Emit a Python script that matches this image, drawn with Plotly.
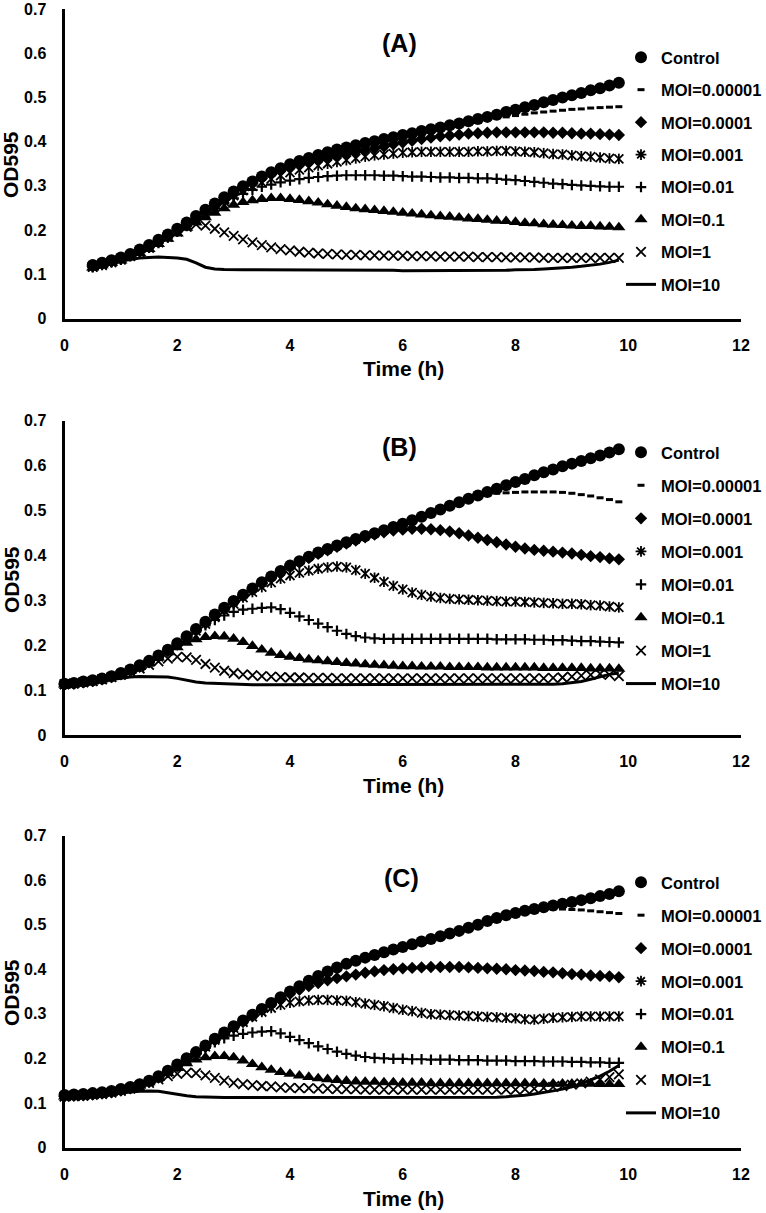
import plotly.graph_objects as go

W, H = 766, 1213
FONT = "Liberation Sans, Arial, Helvetica, sans-serif"

NAMES = ["Control", "MOI=0.00001", "MOI=0.0001", "MOI=0.001",
         "MOI=0.01", "MOI=0.1", "MOI=1", "MOI=10"]

# sampling times in minutes (10-min reads)
A_MINUTES = [30, 40, 50, 60, 70, 80, 90, 100, 110, 120,
             130, 140, 150, 160, 170, 180, 190, 200, 210, 220,
             230, 240, 250, 260, 270, 280, 290, 300, 310, 320,
             330, 340, 350, 360, 370, 380, 390, 400, 410, 420,
             430, 440, 450, 460, 470, 480, 490, 500, 510, 520,
             530, 540, 550, 560, 570, 580, 590]
BC_MINUTES = [0, 10, 20, 30, 40, 50, 60, 70, 80, 90,
              100, 110, 120, 130, 140, 150, 160, 170, 180, 190,
              200, 210, 220, 230, 240, 250, 260, 270, 280, 290,
              300, 310, 320, 330, 340, 350, 360, 370, 380, 390,
              400, 410, 420, 430, 440, 450, 460, 470, 480, 490,
              500, 510, 520, 530, 540, 550, 560, 570, 580, 590]

# ---------------- Panel A ----------------
A_CONTROL = [0.121,0.126,0.132,0.138,0.146,0.156,0.166,0.178,0.190,0.203,
             0.217,0.232,0.246,0.260,0.274,0.287,0.299,0.310,0.321,0.331,
             0.340,0.349,0.356,0.363,0.370,0.376,0.382,0.387,0.392,0.397,
             0.401,0.406,0.410,0.415,0.419,0.424,0.428,0.432,0.437,0.441,
             0.446,0.451,0.456,0.461,0.467,0.472,0.478,0.483,0.489,0.494,
             0.500,0.505,0.510,0.516,0.521,0.527,0.533]
A_MOI_1E5 = [0.119,0.124,0.130,0.136,0.144,0.154,0.164,0.176,0.188,0.201,
             0.215,0.229,0.243,0.257,0.271,0.284,0.296,0.307,0.318,0.328,
             0.337,0.346,0.354,0.361,0.368,0.374,0.380,0.385,0.390,0.395,
             0.399,0.404,0.408,0.413,0.417,0.421,0.425,0.429,0.433,0.437,
             0.441,0.445,0.449,0.453,0.456,0.459,0.462,0.465,0.467,0.469,
             0.471,0.473,0.474,0.476,0.477,0.478,0.479]
A_MOI_1E4 = [0.118,0.123,0.129,0.135,0.143,0.152,0.162,0.174,0.186,0.199,
             0.213,0.227,0.241,0.255,0.268,0.281,0.294,0.306,0.317,0.326,
             0.334,0.341,0.347,0.353,0.358,0.363,0.368,0.372,0.377,0.381,
             0.385,0.389,0.394,0.398,0.402,0.406,0.409,0.412,0.414,0.416,
             0.418,0.419,0.420,0.421,0.421,0.421,0.421,0.421,0.421,0.420,
             0.420,0.419,0.418,0.418,0.417,0.416,0.415]
A_MOI_1E3 = [0.117,0.122,0.128,0.134,0.142,0.151,0.161,0.172,0.184,0.197,
             0.211,0.225,0.238,0.252,0.265,0.278,0.289,0.299,0.308,0.316,
             0.323,0.330,0.336,0.341,0.346,0.350,0.354,0.358,0.362,0.366,
             0.369,0.371,0.373,0.375,0.376,0.377,0.377,0.377,0.377,0.377,
             0.377,0.378,0.378,0.379,0.379,0.378,0.377,0.376,0.374,0.372,
             0.371,0.369,0.367,0.366,0.364,0.362,0.361]
A_MOI_1E2 = [0.116,0.121,0.127,0.133,0.141,0.150,0.160,0.171,0.183,0.196,
             0.209,0.223,0.236,0.249,0.261,0.272,0.282,0.291,0.298,0.303,
             0.308,0.312,0.315,0.318,0.320,0.322,0.323,0.324,0.324,0.324,
             0.324,0.323,0.323,0.322,0.321,0.321,0.320,0.319,0.319,0.318,
             0.318,0.317,0.317,0.316,0.314,0.313,0.311,0.309,0.307,0.305,
             0.304,0.302,0.301,0.300,0.299,0.298,0.298]
A_MOI_1E1 = [0.115,0.120,0.125,0.131,0.139,0.148,0.157,0.168,0.180,0.192,
             0.205,0.217,0.229,0.239,0.249,0.257,0.263,0.267,0.270,0.272,
             0.272,0.270,0.268,0.265,0.262,0.258,0.255,0.252,0.249,0.247,
             0.245,0.243,0.241,0.239,0.237,0.235,0.233,0.231,0.230,0.228,
             0.226,0.225,0.223,0.221,0.220,0.218,0.216,0.215,0.213,0.212,
             0.211,0.210,0.209,0.209,0.208,0.207,0.206]
A_MOI_1 = [0.117,0.121,0.127,0.133,0.141,0.150,0.160,0.172,0.185,0.197,
           0.207,0.213,0.210,0.203,0.195,0.187,0.179,0.172,0.166,0.161,
           0.157,0.154,0.151,0.149,0.147,0.146,0.145,0.144,0.144,0.143,
           0.143,0.142,0.142,0.142,0.141,0.141,0.141,0.140,0.140,0.140,
           0.140,0.139,0.139,0.139,0.138,0.138,0.138,0.138,0.137,0.137,
           0.137,0.137,0.137,0.137,0.137,0.137,0.137]
A_MOI_10 = [0.116,0.120,0.125,0.130,0.134,0.137,0.138,0.139,0.138,0.137,
            0.134,0.126,0.116,0.112,0.111,0.110,0.110,0.110,0.110,0.110,
            0.109,0.109,0.109,0.109,0.109,0.109,0.109,0.109,0.109,0.109,
            0.109,0.109,0.109,0.108,0.108,0.108,0.108,0.108,0.108,0.108,
            0.108,0.108,0.108,0.109,0.109,0.110,0.110,0.111,0.112,0.113,
            0.114,0.116,0.118,0.120,0.123,0.127,0.132]

# ---------------- Panel B ----------------
B_CONTROL = [0.114,0.116,0.119,0.122,0.126,0.131,0.138,0.146,0.155,0.165,
             0.177,0.190,0.204,0.220,0.236,0.252,0.268,0.283,0.298,0.312,
             0.326,0.340,0.353,0.365,0.377,0.387,0.397,0.406,0.414,0.422,
             0.429,0.436,0.443,0.449,0.456,0.463,0.470,0.478,0.486,0.494,
             0.502,0.510,0.518,0.526,0.533,0.541,0.548,0.556,0.563,0.570,
             0.578,0.585,0.591,0.598,0.604,0.610,0.616,0.622,0.629,0.636]
B_MOI_1E5 = [0.113,0.115,0.118,0.121,0.125,0.130,0.136,0.144,0.153,0.163,
             0.175,0.188,0.202,0.218,0.234,0.250,0.266,0.281,0.296,0.310,
             0.324,0.338,0.351,0.363,0.375,0.385,0.395,0.404,0.412,0.420,
             0.427,0.434,0.441,0.447,0.454,0.461,0.468,0.476,0.484,0.492,
             0.500,0.508,0.516,0.523,0.530,0.535,0.538,0.539,0.540,0.541,
             0.541,0.541,0.541,0.540,0.538,0.535,0.532,0.528,0.524,0.519]
B_MOI_1E4 = [0.112,0.114,0.117,0.120,0.124,0.129,0.135,0.143,0.152,0.162,
             0.174,0.187,0.201,0.217,0.233,0.249,0.265,0.280,0.295,0.309,
             0.323,0.337,0.350,0.362,0.374,0.384,0.394,0.403,0.411,0.419,
             0.426,0.433,0.440,0.446,0.451,0.455,0.457,0.459,0.459,0.458,
             0.456,0.453,0.449,0.444,0.439,0.434,0.429,0.424,0.419,0.415,
             0.412,0.410,0.408,0.406,0.404,0.401,0.398,0.396,0.393,0.391]
B_MOI_1E3 = [0.112,0.114,0.117,0.120,0.124,0.129,0.135,0.143,0.152,0.162,
             0.174,0.187,0.201,0.216,0.232,0.247,0.262,0.277,0.292,0.306,
             0.318,0.329,0.339,0.348,0.355,0.361,0.366,0.370,0.373,0.375,
             0.373,0.367,0.359,0.350,0.341,0.332,0.324,0.317,0.312,0.308,
             0.305,0.303,0.302,0.301,0.300,0.299,0.298,0.297,0.297,0.296,
             0.295,0.294,0.293,0.292,0.292,0.291,0.289,0.288,0.286,0.284]
B_MOI_1E2 = [0.112,0.114,0.117,0.120,0.124,0.129,0.135,0.143,0.152,0.162,
             0.174,0.187,0.201,0.215,0.230,0.244,0.256,0.266,0.274,0.279,
             0.281,0.283,0.284,0.280,0.272,0.264,0.256,0.248,0.240,0.232,
             0.225,0.220,0.217,0.215,0.214,0.214,0.214,0.214,0.214,0.214,
             0.214,0.214,0.214,0.214,0.214,0.214,0.213,0.213,0.213,0.213,
             0.212,0.212,0.211,0.211,0.210,0.209,0.209,0.208,0.207,0.206]
B_MOI_1E1 = [0.112,0.114,0.117,0.120,0.124,0.129,0.134,0.142,0.151,0.161,
             0.172,0.184,0.195,0.205,0.213,0.218,0.220,0.219,0.214,0.207,
             0.198,0.190,0.183,0.178,0.174,0.171,0.168,0.166,0.164,0.162,
             0.160,0.159,0.157,0.156,0.155,0.154,0.153,0.153,0.152,0.152,
             0.152,0.151,0.151,0.151,0.151,0.150,0.150,0.150,0.150,0.150,
             0.150,0.149,0.149,0.149,0.149,0.149,0.148,0.148,0.148,0.147]
B_MOI_1 = [0.113,0.115,0.117,0.120,0.124,0.129,0.134,0.141,0.148,0.156,
           0.164,0.170,0.174,0.173,0.167,0.158,0.150,0.143,0.138,0.135,
           0.133,0.131,0.130,0.129,0.128,0.128,0.127,0.127,0.127,0.126,
           0.126,0.126,0.126,0.126,0.126,0.126,0.126,0.126,0.126,0.126,
           0.126,0.126,0.126,0.126,0.126,0.126,0.126,0.126,0.126,0.126,
           0.126,0.126,0.127,0.128,0.130,0.132,0.134,0.136,0.134,0.131]
B_MOI_10 = [0.115,0.116,0.117,0.119,0.121,0.124,0.127,0.129,0.130,0.130,
            0.130,0.129,0.126,0.122,0.118,0.116,0.115,0.114,0.113,0.113,
            0.112,0.112,0.112,0.112,0.112,0.112,0.112,0.112,0.112,0.112,
            0.112,0.112,0.112,0.112,0.112,0.112,0.112,0.112,0.112,0.112,
            0.112,0.112,0.112,0.112,0.112,0.112,0.112,0.112,0.112,0.112,
            0.112,0.112,0.113,0.114,0.116,0.119,0.124,0.130,0.135,0.138]

# ---------------- Panel C ----------------
C_CONTROL = [0.118,0.119,0.120,0.122,0.124,0.127,0.131,0.136,0.142,0.150,
             0.160,0.172,0.186,0.200,0.214,0.229,0.244,0.258,0.272,0.285,
             0.298,0.311,0.324,0.337,0.350,0.362,0.374,0.385,0.395,0.404,
             0.412,0.419,0.426,0.432,0.438,0.444,0.450,0.456,0.462,0.468,
             0.474,0.480,0.486,0.493,0.500,0.508,0.515,0.521,0.526,0.531,
             0.535,0.539,0.543,0.547,0.551,0.555,0.559,0.564,0.569,0.575]
C_MOI_1E5 = [0.116,0.117,0.118,0.120,0.122,0.125,0.129,0.134,0.140,0.148,
             0.158,0.170,0.184,0.198,0.212,0.227,0.242,0.256,0.270,0.283,
             0.296,0.309,0.322,0.335,0.348,0.360,0.372,0.383,0.393,0.402,
             0.410,0.417,0.424,0.430,0.436,0.442,0.448,0.454,0.460,0.466,
             0.472,0.478,0.484,0.491,0.498,0.506,0.513,0.519,0.524,0.529,
             0.532,0.534,0.535,0.535,0.534,0.533,0.531,0.529,0.527,0.525]
C_MOI_1E4 = [0.115,0.116,0.117,0.119,0.121,0.124,0.128,0.133,0.139,0.147,
             0.157,0.169,0.183,0.197,0.211,0.226,0.241,0.255,0.269,0.282,
             0.295,0.308,0.320,0.333,0.345,0.354,0.362,0.369,0.375,0.380,
             0.384,0.388,0.392,0.395,0.398,0.400,0.402,0.403,0.404,0.405,
             0.405,0.405,0.405,0.404,0.403,0.402,0.401,0.400,0.398,0.397,
             0.396,0.394,0.393,0.391,0.389,0.388,0.386,0.385,0.384,0.382]
C_MOI_1E3 = [0.115,0.116,0.117,0.119,0.121,0.124,0.128,0.133,0.139,0.147,
             0.157,0.169,0.183,0.197,0.211,0.226,0.241,0.255,0.268,0.281,
             0.293,0.304,0.313,0.320,0.325,0.328,0.330,0.331,0.331,0.330,
             0.329,0.326,0.323,0.320,0.317,0.313,0.309,0.306,0.302,0.299,
             0.298,0.297,0.296,0.295,0.294,0.293,0.292,0.291,0.290,0.288,
             0.287,0.289,0.291,0.292,0.293,0.294,0.294,0.294,0.294,0.294]
C_MOI_1E2 = [0.115,0.116,0.117,0.119,0.121,0.124,0.128,0.133,0.139,0.147,
             0.157,0.169,0.182,0.196,0.210,0.224,0.236,0.245,0.251,0.255,
             0.258,0.260,0.261,0.256,0.248,0.241,0.234,0.227,0.221,0.215,
             0.210,0.206,0.203,0.201,0.200,0.199,0.199,0.198,0.198,0.197,
             0.197,0.197,0.196,0.196,0.196,0.195,0.195,0.195,0.194,0.194,
             0.194,0.193,0.193,0.193,0.192,0.192,0.191,0.191,0.190,0.190]
C_MOI_1E1 = [0.114,0.115,0.116,0.118,0.120,0.123,0.127,0.132,0.138,0.146,
             0.156,0.167,0.178,0.189,0.197,0.202,0.205,0.205,0.202,0.195,
             0.187,0.180,0.174,0.169,0.165,0.161,0.158,0.155,0.153,0.151,
             0.149,0.148,0.147,0.147,0.146,0.146,0.145,0.145,0.145,0.144,
             0.144,0.144,0.144,0.144,0.144,0.144,0.144,0.144,0.144,0.144,
             0.144,0.143,0.143,0.143,0.143,0.143,0.143,0.142,0.142,0.142]
C_MOI_1 = [0.114,0.115,0.116,0.118,0.120,0.123,0.127,0.132,0.138,0.145,
           0.153,0.160,0.165,0.168,0.167,0.162,0.156,0.150,0.145,0.142,
           0.140,0.138,0.137,0.135,0.134,0.133,0.133,0.132,0.132,0.131,
           0.131,0.131,0.130,0.130,0.130,0.130,0.130,0.130,0.130,0.130,
           0.130,0.130,0.130,0.130,0.130,0.130,0.130,0.130,0.130,0.131,
           0.132,0.134,0.136,0.138,0.141,0.144,0.148,0.153,0.158,0.164]
C_MOI_10 = [0.113,0.114,0.115,0.117,0.119,0.121,0.123,0.125,0.126,0.127,
            0.126,0.123,0.119,0.116,0.114,0.113,0.112,0.112,0.112,0.112,
            0.112,0.112,0.112,0.112,0.112,0.112,0.112,0.112,0.112,0.112,
            0.112,0.112,0.112,0.112,0.112,0.112,0.112,0.112,0.112,0.112,
            0.112,0.112,0.112,0.112,0.112,0.112,0.113,0.114,0.115,0.117,
            0.120,0.123,0.127,0.131,0.136,0.143,0.151,0.160,0.171,0.184]

PANELS = [
    ("(A)", A_MINUTES, [A_CONTROL, A_MOI_1E5, A_MOI_1E4, A_MOI_1E3,
                        A_MOI_1E2, A_MOI_1E1, A_MOI_1, A_MOI_10]),
    ("(B)", BC_MINUTES, [B_CONTROL, B_MOI_1E5, B_MOI_1E4, B_MOI_1E3,
                         B_MOI_1E2, B_MOI_1E1, B_MOI_1, B_MOI_10]),
    ("(C)", BC_MINUTES, [C_CONTROL, C_MOI_1E5, C_MOI_1E4, C_MOI_1E3,
                         C_MOI_1E2, C_MOI_1E1, C_MOI_1, C_MOI_10]),
]

X_TICKS = [0, 2, 4, 6, 8, 10, 12]
Y_TICKS = [0, 0.1, 0.2, 0.3, 0.4, 0.5, 0.6, 0.7]

# ---------------- layout geometry (pixels) ----------------
def px_x(x):
    return x / W

def px_y(y):
    return 1 - y / H

X_DOMAIN = [px_x(64.5), px_x(741)]
Y_PIX = [(318.5, 9.0), (735.0, 420.5), (1147.5, 835.5)]      # (value 0, value 0.7)
TITLE_POS = [(399, 43), (399, 447), (401, 878)]
XTITLE_Y = [369, 785, 1198]
YTITLE_Y = [165, 580, 993]
LEGEND_TOP = [40, 435, 865]
LEGEND_GAP = [8.0, 8.6, 8.5]
LEGEND_X = 621

BLACK = "black"
STYLE = [
    dict(mode="markers", marker=dict(symbol="circle", size=12, color=BLACK)),
    dict(mode="markers", marker=dict(symbol="line-ew-open", size=5, color=BLACK,
                                     line=dict(width=3, color=BLACK))),
    dict(mode="markers", marker=dict(symbol="diamond", size=9.5, color=BLACK)),
    None,  # star: built from two symbols
    dict(mode="markers", marker=dict(symbol="cross-thin-open", size=7.5, color=BLACK,
                                     line=dict(width=2.2, color=BLACK))),
    dict(mode="markers", marker=dict(symbol="triangle-up", size=11.5, color=BLACK)),
    dict(mode="markers", marker=dict(symbol="x-thin-open", size=9.5, color=BLACK,
                                     line=dict(width=1.8, color=BLACK))),
    dict(mode="lines", line=dict(width=3, color=BLACK)),
]

fig = go.Figure()
annotations = []
layout = dict(width=W, height=H, margin=dict(l=0, r=0, t=0, b=0, autoexpand=False),
              paper_bgcolor="white", plot_bgcolor="white", showlegend=True)

for p, (label, minutes, series) in enumerate(PANELS):
    sfx = "" if p == 0 else str(p + 1)
    xa, ya, lg = "x" + sfx, "y" + sfx, "legend" + sfx
    hours = [m / 60 for m in minutes]
    # draw the last series first so that Control ends up on top
    for k in reversed(range(len(NAMES))):
        name, vals = NAMES[k], series[k]
        grp = f"{label}-{k}"
        common = dict(name=name, xaxis=xa, yaxis=ya, legend=lg, legendgroup=grp,
                      legendrank=k + 1, cliponaxis=False, hoverinfo="skip")
        if STYLE[k] is None:
            fig.add_trace(go.Scatter(x=hours, y=vals, mode="markers", showlegend=False,
                                     marker=dict(symbol="x-thin-open", size=9, color=BLACK,
                                                 line=dict(width=1.8, color=BLACK)), **common))
            fig.add_trace(go.Scatter(x=hours, y=vals, mode="markers", showlegend=False,
                                     marker=dict(symbol="line-ns-open", size=7.5, color=BLACK,
                                                 line=dict(width=1.8, color=BLACK)), **common))
            fig.add_trace(go.Scatter(x=[None], y=[None], mode="markers", showlegend=True,
                                     marker=dict(symbol="asterisk-open", size=9, color=BLACK,
                                                 line=dict(width=1.8, color=BLACK)), **common))
        else:
            fig.add_trace(go.Scatter(x=hours, y=vals, **STYLE[k], **common))

    y0, y1 = Y_PIX[p]
    tickfont = dict(family=FONT, size=16, color=BLACK, weight="bold")
    layout["xaxis" + sfx] = dict(domain=X_DOMAIN, anchor=ya, range=[0, 12],
                                 tickvals=X_TICKS, ticktext=[str(v) for v in X_TICKS],
                                 showline=True, linewidth=3, linecolor=BLACK,
                                 showgrid=False, zeroline=False, ticks="",
                                 tickfont=tickfont, ticklabelstandoff=10)
    layout["yaxis" + sfx] = dict(domain=[px_y(y0), px_y(y1)], anchor=xa, range=[0, 0.7],
                                 tickvals=Y_TICKS, ticktext=[f"{v:g}" for v in Y_TICKS],
                                 showline=True, linewidth=3, linecolor=BLACK,
                                 showgrid=False, zeroline=False, ticks="",
                                 tickfont=tickfont, ticklabelstandoff=12)
    layout[lg] = dict(x=px_x(LEGEND_X), y=px_y(LEGEND_TOP[p]), xanchor="left", yanchor="top",
                      bgcolor="rgba(0,0,0,0)", borderwidth=0, traceorder="grouped",
                      tracegroupgap=LEGEND_GAP[p],
                      font=dict(family=FONT, size=16.5, color=BLACK, weight="bold"))
    tx, ty = TITLE_POS[p]
    annotations.append(dict(text=label, x=px_x(tx), y=px_y(ty), xref="paper", yref="paper",
                            showarrow=False, xanchor="center", yanchor="middle",
                            font=dict(family=FONT, size=25, color=BLACK, weight="bold")))
    annotations.append(dict(text="Time (h)", x=px_x(403), y=px_y(XTITLE_Y[p]),
                            xref="paper", yref="paper", showarrow=False,
                            xanchor="center", yanchor="middle",
                            font=dict(family=FONT, size=21, color=BLACK, weight="bold")))
    annotations.append(dict(text="OD595", x=px_x(11), y=px_y(YTITLE_Y[p]),
                            xref="paper", yref="paper", showarrow=False, textangle=-90,
                            xanchor="center", yanchor="middle",
                            font=dict(family=FONT, size=21, color=BLACK, weight="bold")))

layout["annotations"] = annotations
fig.update_layout(**layout)
fig.write_html("out.html", config={"displayModeBar": False},
               post_script="document.body.style.margin='0';")
